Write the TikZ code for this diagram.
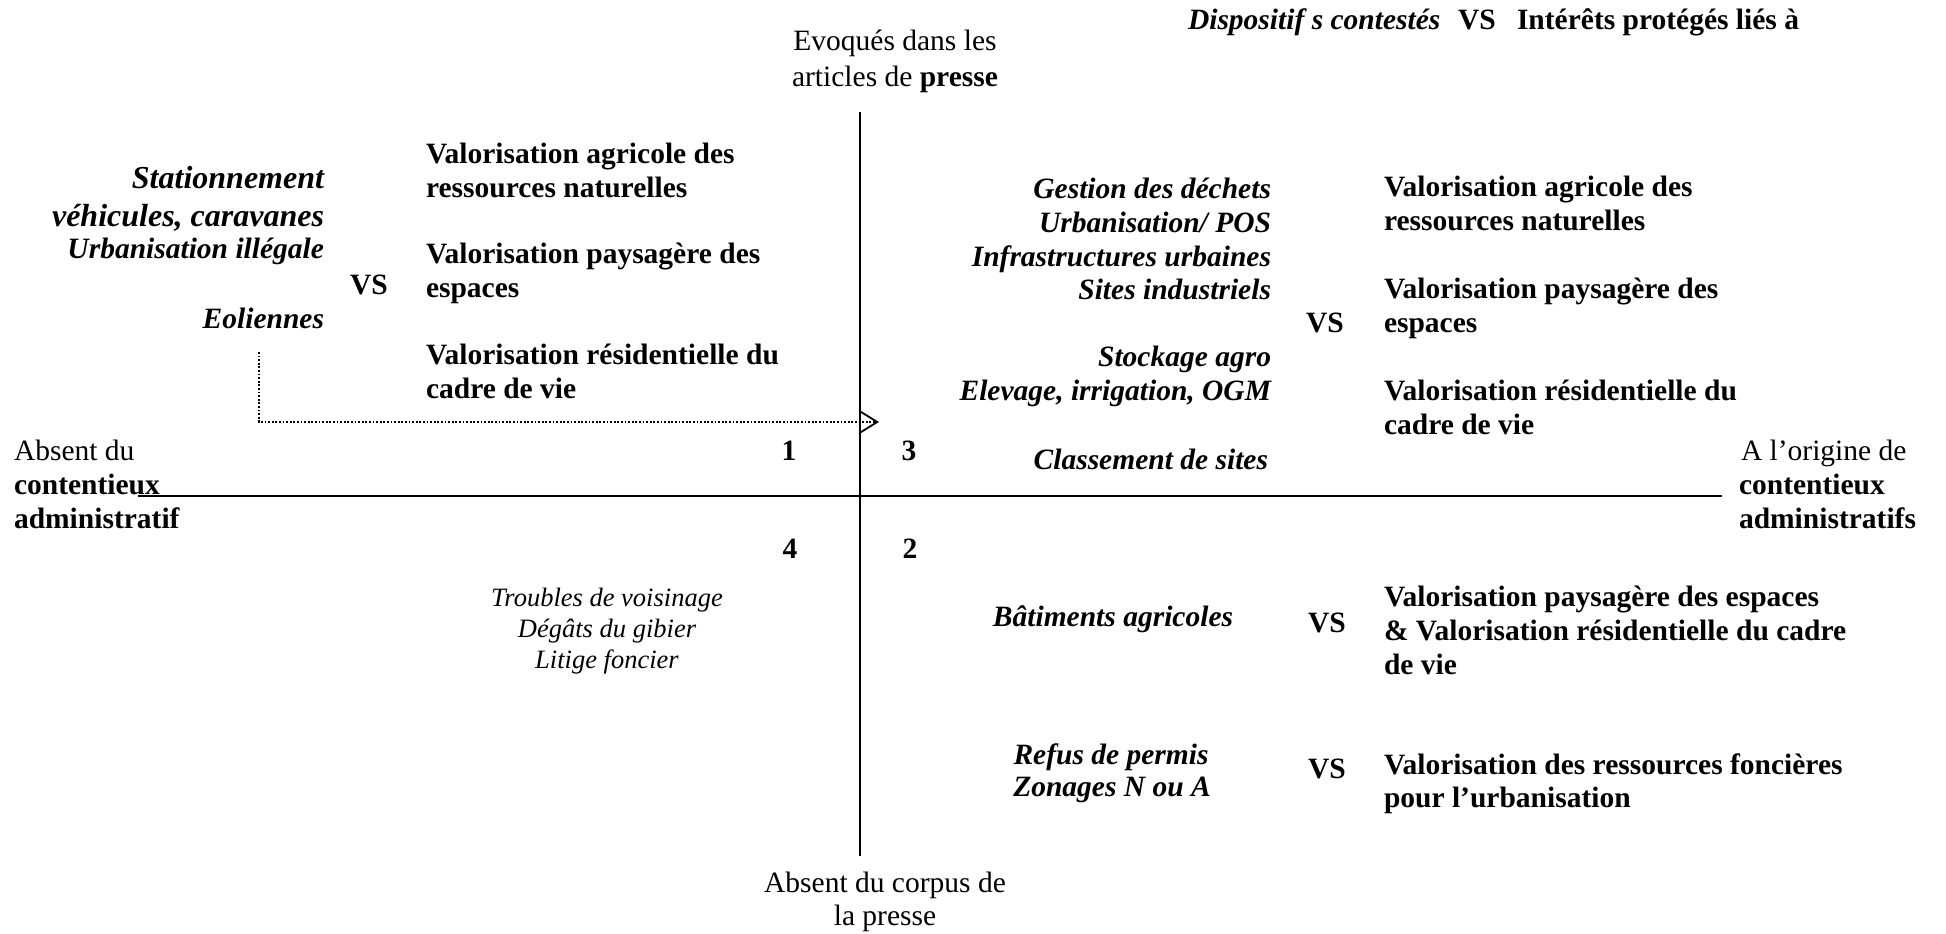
\documentclass[tikz,border=0pt]{standalone}
\usepackage{fontspec}
\setmainfont{Liberation Serif}
\usetikzlibrary{arrows.meta}
\newcommand\fsN{\fontsize{29.5}{34.5}\selectfont}
\newcommand\fsL{\fontsize{32}{38}\selectfont}
\newcommand\fsS{\fontsize{26.5}{31}\selectfont}
\tikzset{
  t/.style={inner sep=0pt, outer sep=0pt, font=\fsN},
  tb/.style={t, font=\fsN\bfseries},
  tbi/.style={t, font=\fsN\bfseries\itshape},
  tbil/.style={t, font=\fsL\bfseries\itshape},
  ts/.style={t, font=\fsS\itshape},
  axisv/.style={draw=black, line width=1.4pt},
  axish/.style={draw=black, line width=1.8pt},
  dotline/.style={draw=black, line width=1.8pt, dash pattern=on 1.8pt off 1.8pt,
    -{Straight Barb[length=17pt, width=21pt, line width=1.8pt]}},
}
\begin{document}
\begin{tikzpicture}[x=1pt, y=-1pt]
\useasboundingbox (0,0) rectangle (1946,934);

% axes
\coordinate (L) at (138,496);
\coordinate (R) at (1722,496);
\coordinate (T) at (860,112);
\coordinate (B) at (860,856);
\draw[axish] (L) -- (R);
\draw[axisv] (T) -- (B);

% dotted arrow
\coordinate (d0) at (259,352);
\coordinate (tip) at (879,422);
\draw[dotline] (d0) |- (tip);

% header
\node[tbi, anchor=base west] (h1) at (1188,30) {Dispositif s contestés};
\node[tb, anchor=base west] (h2) at (1458,30) {VS};
\node[tb, anchor=base west] (h3) at (1517,30) {Intérêts protégés liés à};

% vertical axis labels
\node[t, anchor=base] (e1) at (895,51) {Evoqués dans les};
\node[t, anchor=base] (e2) at (895,86) {articles de \textbf{presse}};
\node[t, anchor=base] (a1) at (885,892) {Absent du corpus de};
\node[t, anchor=base] (a2) at (885,925) {la presse};

% horizontal axis labels
\node[t, anchor=base west] (l1) at (14,460) {Absent du};
\node[tb, anchor=base west] (l2) at (14,494) {contentieux};
\node[tb, anchor=base west] (l3) at (14,528) {administratif};
\node[t, anchor=base west] (r1) at (1741,460) {A l’origine de};
\node[tb, anchor=base west] (r2) at (1739,494) {contentieux};
\node[tb, anchor=base west] (r3) at (1739,528) {administratifs};

% quadrant numbers
\node[tb, anchor=base] (n1) at (789,460) {1};
\node[tb, anchor=base] (n3) at (909,460) {3};
\node[tb, anchor=base] (n4) at (790,558) {4};
\node[tb, anchor=base] (n2) at (910,558) {2};

% quadrant 1 (top left)
\node[tbil, anchor=base east] (q1a) at (324,188) {Stationnement};
\node[tbil, anchor=base east] (q1b) at (324,226) {véhicules, caravanes};
\node[tbi, anchor=base east] (q1c) at (324,258) {Urbanisation illégale};
\node[tbi, anchor=base east] (q1d) at (324,328) {Eoliennes};
\node[tb, anchor=base] (vs1) at (369,294) {VS};
\node[tb, anchor=base west] (p1a) at (426,163) {Valorisation agricole des};
\node[tb, anchor=base west] (p1b) at (426,197.5) {ressources naturelles};
\node[tb, anchor=base west] (p1c) at (426,263.5) {Valorisation paysagère des};
\node[tb, anchor=base west] (p1d) at (426,297) {espaces};
\node[tb, anchor=base west] (p1e) at (426,364) {Valorisation résidentielle du};
\node[tb, anchor=base west] (p1f) at (426,398.5) {cadre de vie};

% quadrant 3 (top right)
\node[tbi, anchor=base east] (q3a) at (1271,198) {Gestion des déchets};
\node[tbi, anchor=base east] (q3b) at (1271,232) {Urbanisation/ POS};
\node[tbi, anchor=base east] (q3c) at (1271,266) {Infrastructures urbaines};
\node[tbi, anchor=base east] (q3d) at (1271,299) {Sites industriels};
\node[tbi, anchor=base east] (q3e) at (1271,366) {Stockage agro};
\node[tbi, anchor=base east] (q3f) at (1271,400) {Elevage, irrigation, OGM};
\node[tbi, anchor=base east] (q3g) at (1268,469) {Classement de sites};
\node[tb, anchor=base] (vs3) at (1325,332) {VS};
\node[tb, anchor=base west] (p3a) at (1384,196) {Valorisation agricole des};
\node[tb, anchor=base west] (p3b) at (1384,230) {ressources naturelles};
\node[tb, anchor=base west] (p3c) at (1384,298) {Valorisation paysagère des};
\node[tb, anchor=base west] (p3d) at (1384,332) {espaces};
\node[tb, anchor=base west] (p3e) at (1384,400) {Valorisation résidentielle du};
\node[tb, anchor=base west] (p3f) at (1384,434) {cadre de vie};

% quadrant 4 (bottom left)
\node[ts, anchor=base] (q4a) at (607,606) {Troubles de voisinage};
\node[ts, anchor=base] (q4b) at (607,637) {Dégâts du gibier};
\node[ts, anchor=base] (q4c) at (607,668) {Litige foncier};

% quadrant 2 (bottom right)
\node[tbi, anchor=base] (q2a) at (1113,626) {Bâtiments agricoles};
\node[tb, anchor=base] (vs2a) at (1327,632) {VS};
\node[tb, anchor=base west] (p2a) at (1384,606) {Valorisation paysagère des espaces};
\node[tb, anchor=base west] (p2b) at (1384,640) {\& Valorisation résidentielle du cadre};
\node[tb, anchor=base west] (p2c) at (1384,674) {de vie};
\node[tbi, anchor=base] (q2b) at (1111,764) {Refus de permis};
\node[tbi, anchor=base] (q2c) at (1112,796) {Zonages N ou A};
\node[tb, anchor=base] (vs2b) at (1327,778) {VS};
\node[tb, anchor=base west] (p2d) at (1384,774) {Valorisation des ressources foncières};
\node[tb, anchor=base west] (p2e) at (1384,807) {pour l’urbanisation};
\end{tikzpicture}
\end{document}
